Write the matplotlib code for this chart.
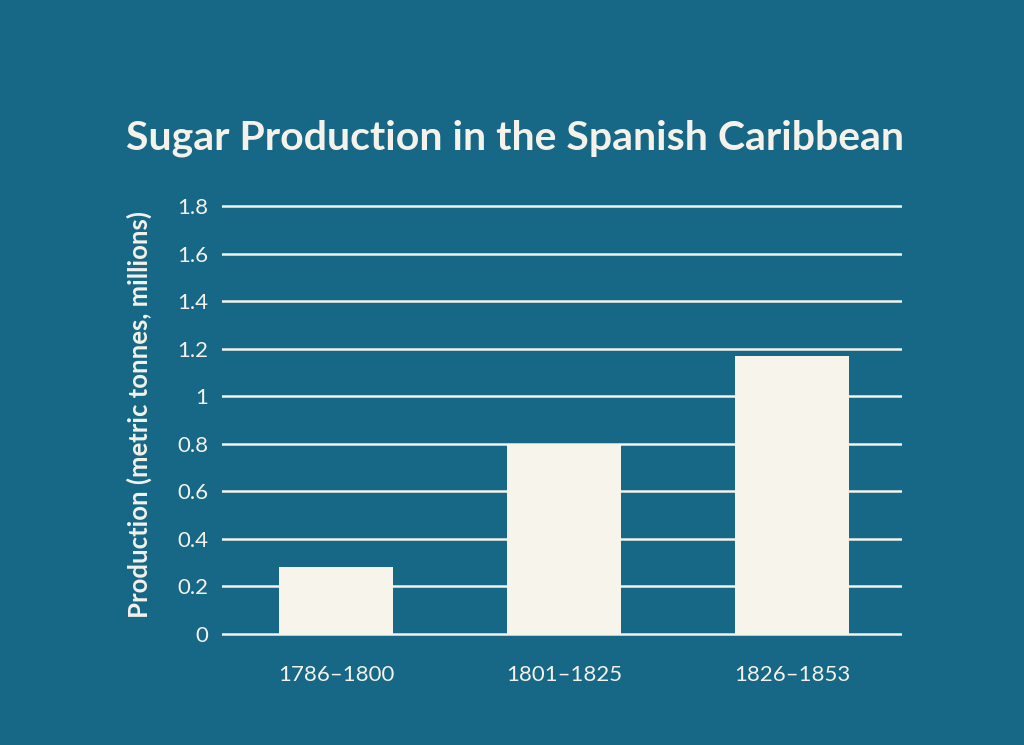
import matplotlib
matplotlib.use('Agg')
import matplotlib.pyplot as plt

periods = ['1786\u20131800', '1801\u20131825', '1826\u20131853']
production = [0.28, 0.80, 1.17]
yticks = [0, 0.2, 0.4, 0.6, 0.8, 1, 1.2, 1.4, 1.6, 1.8]
ytick_labels = ['0', '0.2', '0.4', '0.6', '0.8', '1', '1.2', '1.4', '1.6', '1.8']

BG = '#166886'
BAR = '#f7f4ec'
TXT = '#f4f2ea'

plt.rcParams['font.family'] = ['Lato', 'DejaVu Sans']

fig = plt.figure(figsize=(10.24, 7.45), dpi=100, facecolor=BG)
ax = fig.add_axes([0.2168, 0.1330, 0.664, 0.6224])
ax.set_facecolor(BG)

x = list(range(len(periods)))
ax.bar(x, production, width=0.5, color=BAR, zorder=3)

ax.set_xlim(-0.5, 2.48)
ax.set_ylim(-0.05, 1.9)
ax.set_yticks(yticks)
ax.set_yticklabels(ytick_labels)
ax.set_xticks(x)
ax.set_xticklabels(periods)

for t in yticks:
    ax.axhline(t, color=TXT, lw=1.8, zorder=1)

for s in ax.spines.values():
    s.set_visible(False)
ax.tick_params(axis='both', length=0, colors=TXT, labelsize=16)
ax.tick_params(axis='y', pad=10)
ax.tick_params(axis='x', pad=14)

ax.set_ylabel('Production (metric tonnes, millions)', color=TXT,
              fontsize=18.5, fontweight='bold', labelpad=18)

fig.text(0.503, 0.815, 'Sugar Production in the Spanish Caribbean',
         ha='center', va='center', color=TXT, fontsize=29.5, fontweight='bold')

fig.savefig('out.png', dpi=100, facecolor=BG)
